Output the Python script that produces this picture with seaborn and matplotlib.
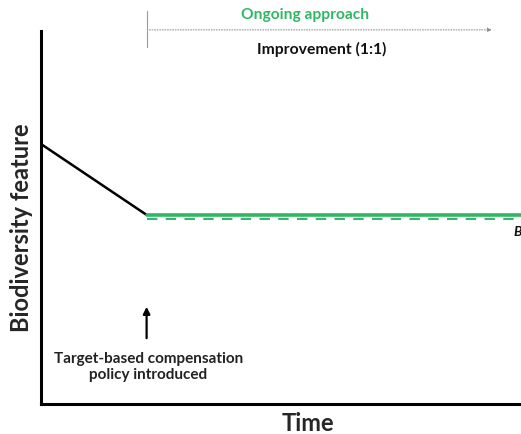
import numpy as np
import matplotlib
matplotlib.use('Agg')
import matplotlib.pyplot as plt
import pandas as pd
import seaborn as sns

# data (axes units 0-100)
time_before = [0, 22]
feat_before = [69.7, 50.7]
time_after = [22, 100]
feat_ongoing = [50.7, 50.7]
feat_baseline = [49.6, 49.6]
policy_time = 22

sns.set_style('white')
plt.rcParams['font.family'] = ['Lato', 'DejaVu Sans']

fig = plt.figure(figsize=(5.21, 4.35), dpi=100)
ax = fig.add_axes([41/521, 30/435, 1 - 41/521, 373/435])

sns.lineplot(x=time_before, y=feat_before, color='black', linewidth=1.8, ax=ax)
sns.lineplot(x=time_after, y=feat_baseline, color='#3cb371', linewidth=1.5,
             linestyle=(0, (5, 4)), ax=ax)
sns.lineplot(x=time_after, y=feat_ongoing, color='#2fb863', linewidth=2.6, ax=ax)

ax.set_xlim(0, 100)
ax.set_ylim(0, 100)
ax.set_xticks([])
ax.set_yticks([])
for s in ['top', 'right']:
    ax.spines[s].set_visible(False)
for s in ['left', 'bottom']:
    ax.spines[s].set_linewidth(2.2)
    ax.spines[s].set_color('black')

ax.set_xlabel('Time', fontsize=17, fontweight='bold', labelpad=2)
ax.xaxis.set_label_coords(0.556, -0.02, transform=ax.transAxes)
ax.xaxis.label.set_va('top')
ax.set_ylabel('Biodiversity feature', fontsize=17, fontweight='bold')
ax.yaxis.set_label_coords(-0.04, 0.475)
ax.yaxis.label.set_va('center')

# policy arrow + label
ax.annotate('', xy=(policy_time, 26.8), xytext=(policy_time, 16.9),
            arrowprops=dict(arrowstyle='-|>', color='black', lw=1.6,
                            mutation_scale=10))
ax.text(policy_time + 0.4, 14.2, 'Target-based compensation\npolicy introduced',
        ha='center', va='top', fontsize=11, fontweight='bold',
        linespacing=1.15, color='#222222')

# ongoing approach header
ax.plot([policy_time, policy_time], [95.7, 105.4], color='#999999', lw=0.8,
        clip_on=False)
ax.annotate('', xy=(94.5, 100.3), xytext=(policy_time, 100.3),
            arrowprops=dict(arrowstyle='-|>', color='#888888', lw=0.7,
                            linestyle=':', mutation_scale=6),
            annotation_clip=False)
ax.text(55, 104.6, 'Ongoing approach', ha='center', va='center', fontsize=11.2,
        fontweight='bold', color='#2fb863', clip_on=False)
ax.text(58.5, 95.4, 'Improvement (1:1)', ha='center', va='center', fontsize=11.3,
        fontweight='bold', color='#111111', clip_on=False)

ax.text(98.5, 46.4, 'B', ha='left', va='center', fontsize=10,
        fontweight='bold', fontstyle='italic', color='#111111')

plt.savefig('out.png', dpi=100)
